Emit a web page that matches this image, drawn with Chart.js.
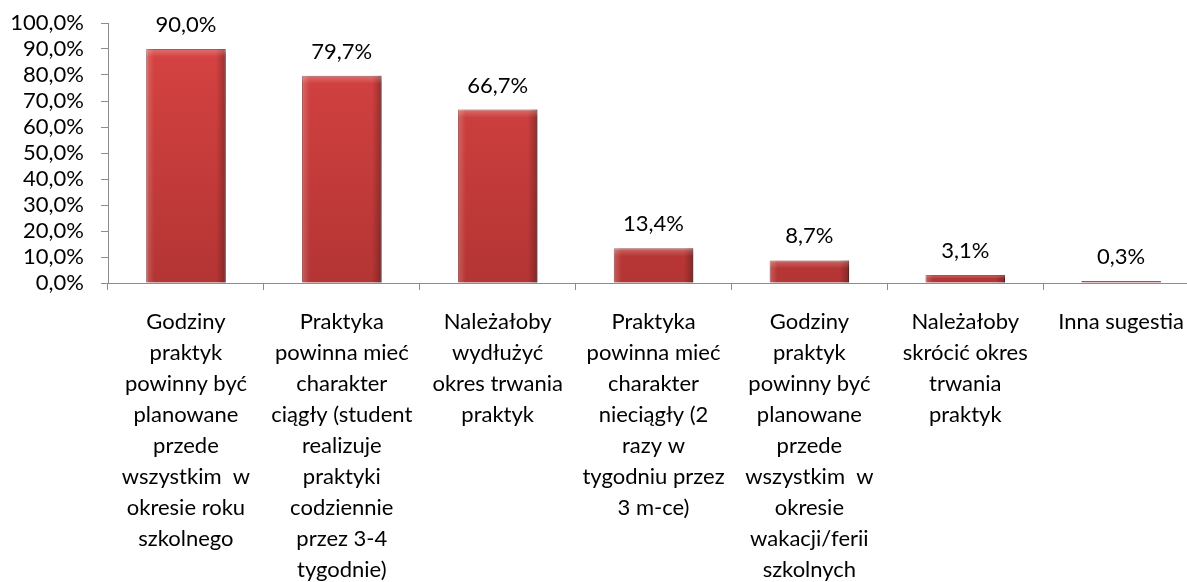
<!DOCTYPE html>
<html>
<head>
<meta charset="utf-8">
<script src="https://cdn.jsdelivr.net/npm/chart.js"></script>
<style>
  html, body { margin: 0; padding: 0; background: #fff; overflow: hidden; }
</style>
</head>
<body>
<canvas id="chart" width="1200" height="582"></canvas>
<script>
// categories (pre-wrapped like the original)
const categories = [
    ['Godziny', 'praktyk', 'powinny być', 'planowane', 'przede', 'wszystkim  w', 'okresie roku', 'szkolnego'],
    ['Praktyka', 'powinna mieć', 'charakter', 'ciągły (student', 'realizuje', 'praktyki', 'codziennie', 'przez 3-4', 'tygodnie)'],
    ['Należałoby', 'wydłużyć', 'okres trwania', 'praktyk'],
    ['Praktyka', 'powinna mieć', 'charakter', 'nieciągły (2', 'razy w', 'tygodniu przez', '3 m-ce)'],
    ['Godziny', 'praktyk', 'powinny być', 'planowane', 'przede', 'wszystkim  w', 'okresie', 'wakacji/ferii', 'szkolnych'],
    ['Należałoby', 'skrócić okres', 'trwania', 'praktyk'],
    ['Inna sugestia']
];
const values = [90.0, 79.7, 66.7, 13.4, 8.7, 3.1, 0.3];
const yTicks = [0, 10, 20, 30, 40, 50, 60, 70, 80, 90, 100];

const FONT = 'Lato, "Open Sans", sans-serif';
const fmt = v => v.toFixed(1).replace('.', ',') + '%';

// soft shadow under bars, bevel shading, value labels
const barDecor = {
    id: 'barDecor',
    beforeDatasetsDraw(chart) {
        const ctx = chart.ctx;
        ctx.save();
        ctx.shadowColor = 'rgba(0,0,0,0.3)';
        ctx.shadowBlur = 4;
        ctx.shadowOffsetX = 2;
        ctx.shadowOffsetY = 2;
    },
    afterDatasetsDraw(chart) {
        const ctx = chart.ctx;
        ctx.restore();
        const meta = chart.getDatasetMeta(0);
        meta.data.forEach((bar, i) => {
            const left = bar.x - bar.width / 2;
            const top = Math.min(bar.y, bar.base);
            const h = Math.abs(bar.base - bar.y);
            if (h > 4) {
                const g = ctx.createLinearGradient(left, 0, left + bar.width, 0);
                g.addColorStop(0, 'rgba(255,255,255,0.2)');
                g.addColorStop(0.1, 'rgba(255,255,255,0.0)');
                g.addColorStop(0.88, 'rgba(0,0,0,0.0)');
                g.addColorStop(1, 'rgba(0,0,0,0.28)');
                ctx.save();
                ctx.fillStyle = g;
                ctx.fillRect(left, top, bar.width, h);
                const t = ctx.createLinearGradient(0, top, 0, top + Math.min(8, h / 2));
                t.addColorStop(0, 'rgba(255,255,255,0.25)');
                t.addColorStop(1, 'rgba(255,255,255,0.0)');
                ctx.fillStyle = t;
                ctx.fillRect(left, top, bar.width, Math.min(8, h / 2));
                ctx.restore();
            }
            ctx.save();
            ctx.fillStyle = '#000';
            ctx.font = '22px ' + FONT;
            ctx.textAlign = 'center';
            ctx.textBaseline = 'alphabetic';
            ctx.fillText(fmt(values[i]), bar.x, bar.y - 17);
            ctx.restore();
        });
    }
};

const ctx = document.getElementById('chart').getContext('2d');
const chart = new Chart(ctx, {
    type: 'bar',
    data: {
        labels: categories,
        datasets: [{
            data: values,
            backgroundColor: (c) => {
                const area = c.chart.chartArea;
                if (!area) return '#C83A3A';
                const g = c.chart.ctx.createLinearGradient(0, area.top, 0, area.bottom);
                g.addColorStop(0, '#D84443');
                g.addColorStop(1, '#B43534');
                return g;
            },
            borderColor: '#8E2524',
            borderWidth: 1,
            minBarLength: 2,
            categoryPercentage: 1.0,
            barPercentage: 0.51
        }]
    },
    options: {
        responsive: false,
        animation: false,
        devicePixelRatio: 1,
        layout: { padding: { top: 23, right: 0, bottom: 0, left: 0 } },
        plugins: {
            legend: { display: false },
            tooltip: { enabled: false }
        },
        scales: {
            x: {
                grid: {
                    offset: true,
                    drawOnChartArea: false,
                    drawTicks: true,
                    tickLength: 7,
                    color: '#8c8c8c'
                },
                border: { color: '#8c8c8c', width: 1 },
                ticks: {
                    color: '#000',
                    font: { family: FONT, size: 22, lineHeight: 1.41 },
                    padding: 16,
                    maxRotation: 0,
                    autoSkip: false
                },
                afterFit(scale) { scale.height = 299; }
            },
            y: {
                min: 0,
                max: 100,
                afterBuildTicks(scale) { scale.ticks = yTicks.map(v => ({ value: v })); },
                grid: {
                    drawOnChartArea: false,
                    drawTicks: true,
                    tickLength: 7,
                    color: '#8c8c8c'
                },
                border: { color: '#8c8c8c', width: 1 },
                ticks: {
                    color: '#000',
                    font: { family: FONT, size: 22 },
                    padding: 17,
                    autoSkip: false,
                    callback: v => fmt(v)
                },
                afterFit(scale) {
                    scale.width = 108;
                    scale.paddingTop = 0;
                    scale.paddingBottom = 0;
                }
            }
        }
    },
    plugins: [barDecor]
});
</script>
</body>
</html>
